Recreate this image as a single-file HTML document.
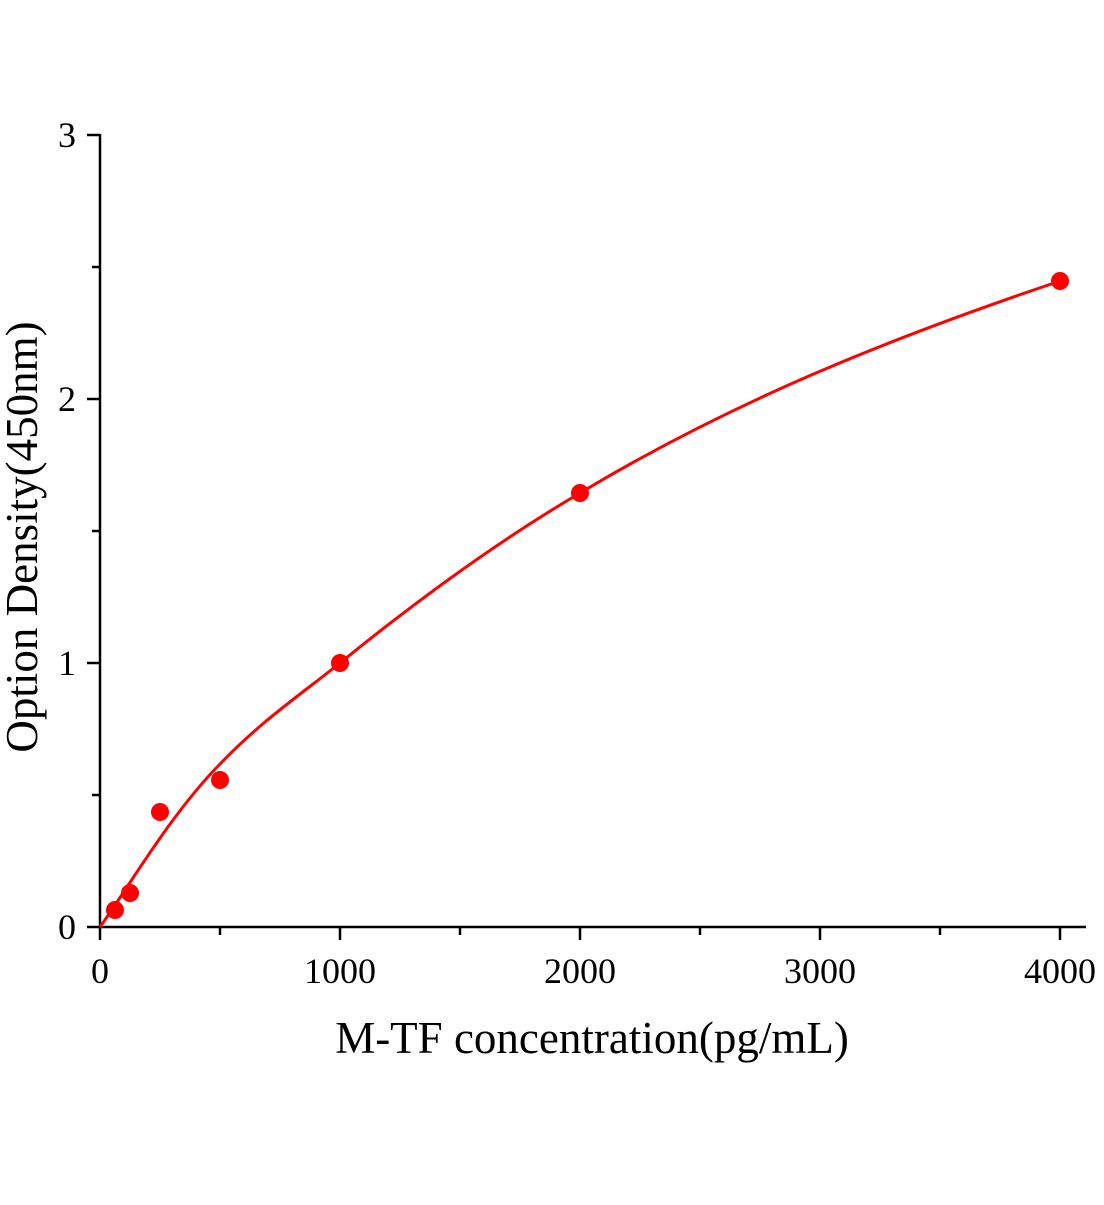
<!DOCTYPE html>
<html><head><style>body{margin:0;background:#fff}</style></head><body>
<svg width="1104" height="1200" xmlns="http://www.w3.org/2000/svg" font-family="Liberation Serif, serif">
<rect width="1104" height="1200" fill="#fff"/>
<g stroke="#000" stroke-width="2.5" fill="none">
<line x1="100" y1="134" x2="100" y2="928"/>
<line x1="99" y1="927" x2="1086" y2="927"/>
<line x1="100" y1="927" x2="100" y2="940"/>
<line x1="220" y1="927" x2="220" y2="935"/>
<line x1="340" y1="927" x2="340" y2="940"/>
<line x1="460" y1="927" x2="460" y2="935"/>
<line x1="580" y1="927" x2="580" y2="940"/>
<line x1="700" y1="927" x2="700" y2="935"/>
<line x1="820" y1="927" x2="820" y2="940"/>
<line x1="940" y1="927" x2="940" y2="935"/>
<line x1="1060" y1="927" x2="1060" y2="940"/>
<line x1="87" y1="927" x2="100" y2="927"/>
<line x1="92" y1="795" x2="100" y2="795"/>
<line x1="87" y1="663" x2="100" y2="663"/>
<line x1="92" y1="531" x2="100" y2="531"/>
<line x1="87" y1="399" x2="100" y2="399"/>
<line x1="92" y1="267" x2="100" y2="267"/>
<line x1="87" y1="135" x2="100" y2="135"/>
</g>
<g font-size="36" text-anchor="middle" fill="#000">
<text x="100" y="983">0</text><text x="340" y="983">1000</text><text x="580" y="983">2000</text><text x="820" y="983">3000</text><text x="1060" y="983">4000</text>
</g>
<g font-size="36" text-anchor="end" fill="#000">
<text x="76" y="939">0</text><text x="76" y="675">1</text><text x="76" y="411">2</text><text x="76" y="147">3</text>
</g>
<text x="592" y="1053" font-size="45" text-anchor="middle">M-TF concentration(pg/mL)</text>
<text transform="translate(37,537) rotate(-90)" font-size="45" text-anchor="middle">Option Density(450nm)</text>
<path fill="none" stroke="#f00" stroke-width="3" d="M100,927 C130,885 170,815 220,764 C260,722 300,695 340,663 C420,598 500,540 580,493 C740,397 900,335 1060,281"/>
<g fill="#f00">
<circle cx="115" cy="910" r="9"/><circle cx="130" cy="893" r="9"/><circle cx="160" cy="812" r="9"/><circle cx="220" cy="780" r="9"/><circle cx="340" cy="663" r="9"/><circle cx="580" cy="493" r="9"/><circle cx="1060" cy="281" r="9"/>
</g>
</svg>
</body></html>
